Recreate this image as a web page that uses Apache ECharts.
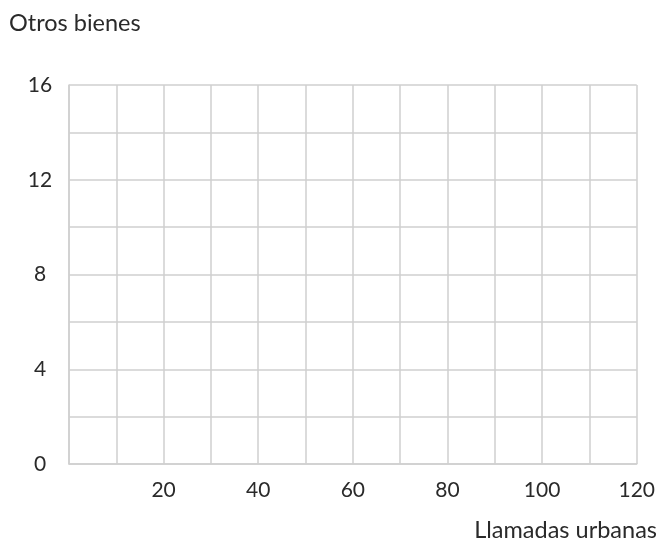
<!DOCTYPE html>
<html>
<head>
<meta charset="utf-8">
<script src="https://cdn.jsdelivr.net/npm/echarts@6/dist/echarts.min.js"></script>
<style>html,body{margin:0;padding:0;background:#fff}#c{width:658px;height:545px}</style>
</head>
<body>
<div id="c"></div>
<script>
const xLabels = [20, 40, 60, 80, 100, 120];
const yLabels = [0, 4, 8, 12, 16];
const xName = 'Llamadas urbanas';
const yName = 'Otros bienes';
const points = [];

const font = 'Lato, "Noto Sans", sans-serif';
const gridColor = '#cfcfcf';
const textColor = '#2a2a2a';
const chart = echarts.init(document.getElementById('c'));
chart.setOption({
  animation: false,
  grid: {left: 69, right: 19, top: 85, bottom: 81},
  xAxis: {
    type: 'value', min: 0, max: 120, interval: 10,
    axisLine: {show: true, lineStyle: {color: gridColor, width: 1.5}},
    axisTick: {show: false},
    splitLine: {show: true, lineStyle: {color: gridColor, width: 1.5}},
    axisLabel: {
      margin: 16, color: textColor, fontSize: 21, fontFamily: font,
      formatter: v => xLabels.includes(v) ? String(v) : ''
    }
  },
  yAxis: {
    type: 'value', min: 0, max: 16, interval: 2,
    axisLine: {show: true, lineStyle: {color: gridColor, width: 1.5}},
    axisTick: {show: false},
    splitLine: {show: true, lineStyle: {color: gridColor, width: 1.5}},
    axisLabel: {
      margin: 29, align: 'center', color: textColor, fontSize: 21, fontFamily: font,
      formatter: v => yLabels.includes(v) ? String(v) : ''
    }
  },
  graphic: [
    {type: 'text', left: 9, top: 11, style: {text: yName, fill: textColor, font: '23.5px ' + font}},
    {type: 'text', right: 1, top: 518, style: {text: xName, fill: textColor, font: '23.5px ' + font}}
  ],
  series: [{type: 'scatter', data: points}]
});
</script>
</body>
</html>
